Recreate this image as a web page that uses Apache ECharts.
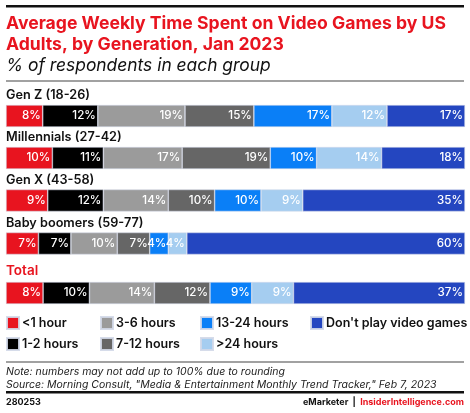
<!DOCTYPE html>
<html><head><meta charset="utf-8">
<script src="https://cdn.jsdelivr.net/npm/echarts@6/dist/echarts.min.js"></script>
<style>html,body{margin:0;padding:0;background:#fff}#c{width:470px;height:413px}</style>
</head><body><div id="c"></div>
<script>
var groups = ['Gen Z (18-26)', 'Millennials (27-42)', 'Gen X (43-58)', 'Baby boomers (59-77)', 'Total'];
var categories = ['<1 hour', '1-2 hours', '3-6 hours', '7-12 hours', '13-24 hours', '>24 hours', "Don't play video games"];
var genZ = [8, 12, 19, 15, 17, 12, 17];
var millennials = [10, 11, 17, 19, 10, 14, 18];
var genX = [9, 12, 14, 10, 10, 9, 35];
var boomers = [7, 7, 10, 7, 4, 4, 60];
var total = [8, 10, 14, 12, 9, 9, 37];
var rows = [genZ, millennials, genX, boomers, total];

var colors = ['#e8141f', '#000000', '#9b9b9b', '#666666', '#0a7ff7', '#a5cdf0', '#2446c0'];
var FONT = 'Inter';
var gridTops = [105, 147, 189.5, 232.5, 282];
var barH = 22;

var grids = [], xAxes = [], yAxes = [], series = [], graphics = [];
rows.forEach(function (row, gi) {
  var sum = row.reduce(function (a, b) { return a + b; }, 0);
  grids.push({ left: 6, right: 5, top: gridTops[gi], height: barH });
  xAxes.push({ type: 'value', gridIndex: gi, min: 0, max: sum, show: false });
  yAxes.push({ type: 'category', gridIndex: gi, data: [groups[gi]], show: false });
  row.forEach(function (v, si) {
    series.push({
      type: 'bar', name: categories[si], stack: 'g' + gi,
      xAxisIndex: gi, yAxisIndex: gi, barWidth: barH,
      data: [v],
      itemStyle: { color: colors[si], borderColor: 'rgba(210,216,232,0.9)', borderWidth: 0.6 },
      label: { show: true, position: 'insideRight', distance: 2, formatter: '{c}%',
        color: '#fff', fontFamily: FONT, fontSize: 11.6, fontWeight: 500 },
      emphasis: { disabled: true }, animation: false
    });
  });
  graphics.push({ type: 'text', left: 6, top: gridTops[gi] - (gi === 4 ? 18 : 16),
    style: { text: groups[gi], fontFamily: FONT, fontSize: gi === 4 ? 13.5 : 12.7, fontWeight: 600,
      fill: gi === 4 ? '#e8141f' : '#111' } });
});

graphics.push(
  { type: 'rect', shape: { x: 6, y: 5, width: 458, height: 2.5 }, style: { fill: '#111' } },
  { type: 'text', left: 6, top: 13, style: { text: 'Average Weekly Time Spent on Video Games by US\nAdults, by Generation, Jan 2023',
    fontFamily: FONT, fontSize: 17.6, fontWeight: 700, fill: '#e8141f', lineHeight: 21 } },
  { type: 'text', left: 6, top: 57, style: { text: '% of respondents in each group',
    fontFamily: FONT, fontSize: 17.4, fontStyle: 'italic', fill: '#111' } },
  { type: 'rect', shape: { x: 6, y: 80.5, width: 458, height: 1 }, style: { fill: '#444' } },
  { type: 'rect', shape: { x: 6, y: 361.5, width: 458, height: 1 }, style: { fill: '#444' } },
  { type: 'text', left: 6, top: 365, style: { text: 'Note: numbers may not add up to 100% due to rounding\nSource: Morning Consult, "Media & Entertainment Monthly Trend Tracker," Feb 7, 2023',
    fontFamily: FONT, fontSize: 10.5, fontStyle: 'italic', fill: '#222', lineHeight: 13 } },
  { type: 'rect', shape: { x: 6, y: 391, width: 458, height: 2.5 }, style: { fill: '#111' } },
  { type: 'text', left: 6, top: 398, style: { text: '280253', fontFamily: FONT, fontSize: 9, fontWeight: 700, fill: '#111' } },
  { type: 'text', right: 6, top: 398, style: { rich: {
      a: { fontFamily: FONT, fontSize: 9, fontWeight: 700, fill: '#111' },
      b: { fontFamily: FONT, fontSize: 9, fontWeight: 700, fill: '#e8141f' } },
    text: '{a|eMarketer  |  }{b|InsiderIntelligence.com}' } }
);

var legendCols = [[0, 1], [2, 3], [4, 5], [6]];
var legendLefts = [6, 100, 200, 310];
var legends = legendCols.map(function (idx, i) {
  return {
    left: legendLefts[i], top: 316, orient: 'vertical', padding: 0,
    itemWidth: 12, itemHeight: 12, itemGap: 7,
    icon: 'rect', selectedMode: false,
    data: idx.map(function (k) { return categories[k]; }),
    textStyle: { fontFamily: FONT, fontSize: 12.5, fontWeight: 600, color: '#111', padding: [0, 0, 0, -2], lineHeight: 12 }
  };
});

var chart = echarts.init(document.getElementById('c'), null, { renderer: 'canvas' });
chart.setOption({
  color: colors, animation: false,
  grid: grids, xAxis: xAxes, yAxis: yAxes, series: series,
  legend: legends, graphic: graphics
});
</script></body></html>
